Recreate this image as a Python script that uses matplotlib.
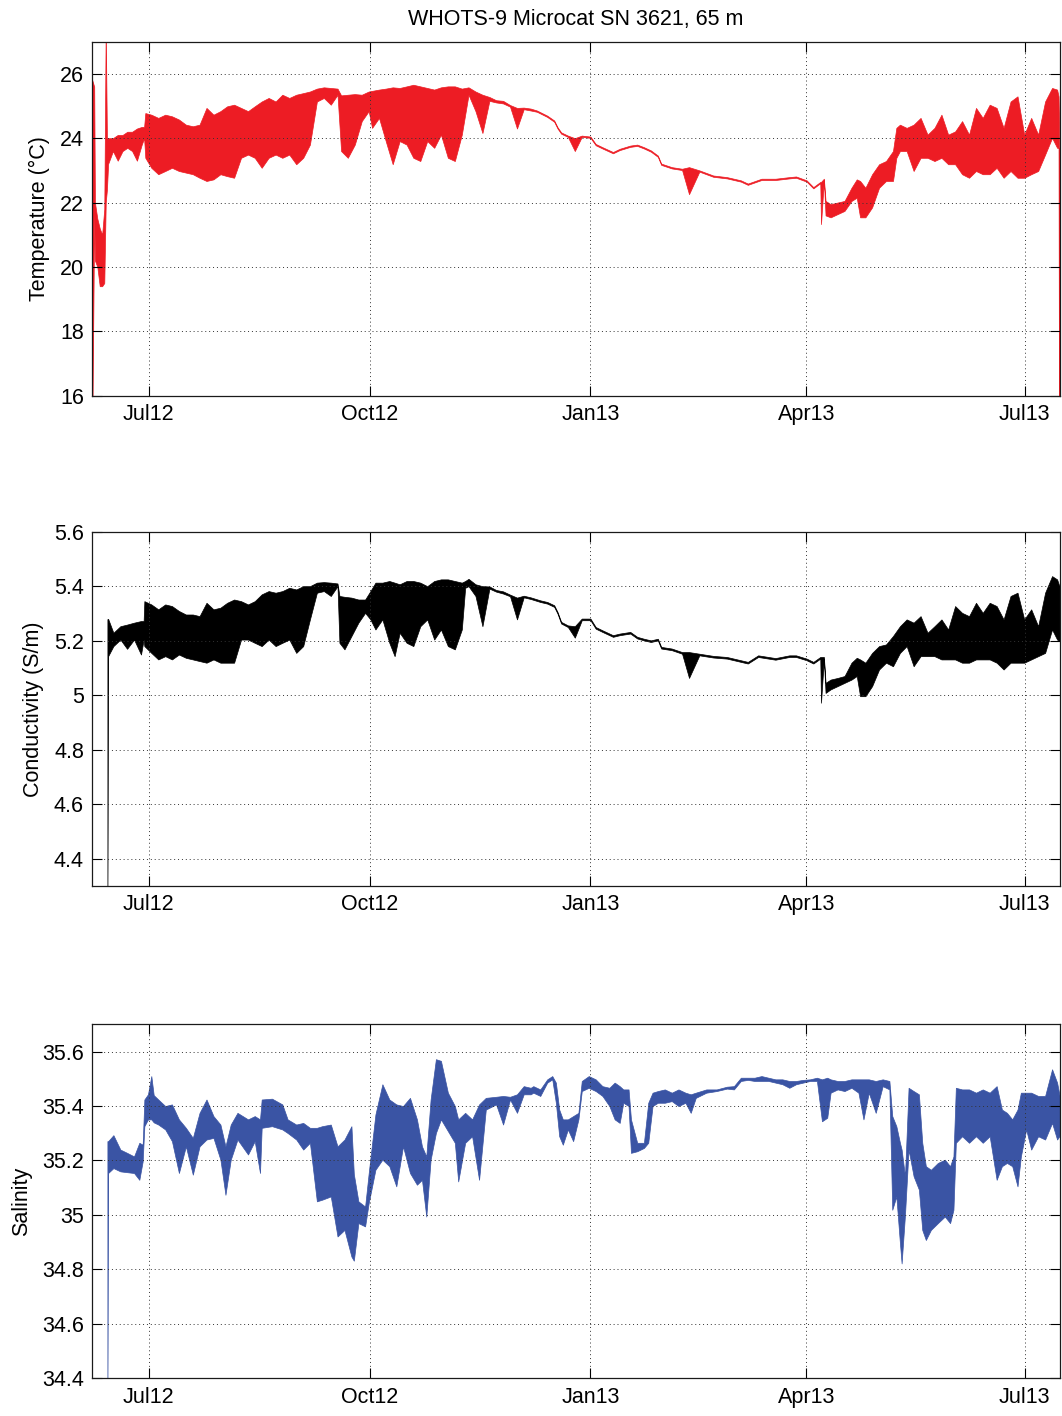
import numpy as np
import matplotlib
matplotlib.use("Agg")
import matplotlib.pyplot as plt
import matplotlib.dates as mdates
from matplotlib.ticker import FormatStrFormatter

plt.rcParams['font.family'] = ['Liberation Sans', 'DejaVu Sans']

# ---------------- data (days after 2012-07-01; lower / upper envelope of record) ----------------
T_days = [-23.6, -22.8, -22.5, -21.5, -20.5, -19.5, -18.6, -18.0, -17.5, -17.0, -15.0, -13.0, -11.0,
          -9.0, -7.0, -5.0, -3.0, -2.0, -1.5, 1.0, 3.9, 6.8, 9.6, 12.5, 15.4, 18.3, 21.1, 24.0, 26.9,
          29.8, 32.6, 35.5, 38.4, 41.3, 44.1, 47.0, 49.9, 52.8, 55.6, 58.5, 61.4, 64.3, 67.1, 70.0,
          72.9, 75.8, 78.6, 80.1, 82.9, 85.8, 88.7, 91.6, 93.0, 95.9, 98.7, 101.6, 104.5, 107.4,
          110.2, 113.1, 116.0, 118.9, 121.7, 124.6, 127.5, 130.4, 133.2, 136.1, 139.0, 141.9, 144.7,
          147.6, 150.5, 153.4, 156.2, 159.1, 161.7, 166.0, 168.9, 170.3, 171.8, 174.6, 177.5, 180.4,
          184.0, 186.2, 189.0, 193.4, 196.2, 200.6, 203.5, 206.3, 209.2, 212.1, 213.5, 217.9, 222.2,
          225.1, 229.4, 235.2, 240.9, 246.7, 249.6, 255.3, 261.1, 266.9, 269.7, 274.1, 276.9, 279.8,
          280.1, 281.3, 282.0, 284.1, 287.0, 289.9, 292.8, 295.0, 296.4, 298.6, 301.4, 304.3, 307.2,
          310.1, 311.5, 313.0, 315.8, 318.7, 321.6, 324.5, 327.4, 330.3, 333.1, 336.0, 338.9, 341.8,
          344.7, 347.5, 350.4, 353.3, 356.2, 359.1, 362.0, 364.8, 367.7, 370.6, 373.5, 376.4, 378.5,
          379.1, 379.3]
T_lo = [15.0, 21.6, 20.2, 20.0, 19.4, 19.4, 19.5, 22.0, 22.4, 23.2, 23.6, 23.3, 23.6,
        23.7, 23.6, 23.3, 23.8, 24.0, 23.39, 23.08, 22.88, 22.98, 23.08, 22.98, 22.93, 22.88, 22.77, 22.67, 22.72,
        22.88, 22.82, 22.77, 23.39, 23.49, 23.39, 23.08, 23.39, 23.49, 23.39, 23.49, 23.19, 23.39, 23.80, 25.14,
        25.25, 25.04, 25.35, 23.60, 23.39, 23.80, 24.53, 24.84, 24.32, 24.63, 23.91, 23.19, 23.91, 23.80,
        23.39, 23.29, 23.91, 23.70, 24.11, 23.39, 23.29, 24.11, 25.35, 24.84, 24.16, 25.16, 25.11,
        25.08, 24.98, 24.30, 24.90, 24.86, 24.82, 24.66, 24.51, 24.30, 24.14, 24.04, 23.60, 24.04,
        24.01, 23.78, 23.68, 23.53, 23.63, 23.73, 23.76, 23.68, 23.58, 23.42, 23.17, 23.06, 23.01,
        22.26, 22.96, 22.80, 22.75, 22.65, 22.55, 22.70, 22.70, 22.75, 22.77, 22.65, 22.44, 22.60,
        21.33, 22.70, 21.60, 21.54, 21.64, 21.74, 22.05, 22.15, 21.54, 21.54, 21.85, 22.46, 22.67,
        22.67, 23.39, 23.60, 23.60, 22.98, 23.39, 23.39, 23.29, 23.39, 23.19, 23.19, 22.88, 22.77,
        22.98, 22.88, 22.88, 23.08, 22.77, 22.98, 22.77, 22.77, 22.88, 22.98, 23.49, 24.01, 23.70,
        23.70, 15.0]
T_hi = [25.8, 25.6, 22.0, 21.5, 21.2, 21.0, 21.8, 27.5, 24.0, 24.0, 24.0, 24.1, 24.1,
        24.2, 24.2, 24.3, 24.35, 24.35, 24.78, 24.73, 24.63, 24.73, 24.68, 24.58, 24.42, 24.37, 24.42, 24.94, 24.73,
        24.84, 24.99, 25.04, 24.94, 24.84, 24.99, 25.14, 25.25, 25.14, 25.35, 25.25, 25.35, 25.40, 25.45, 25.54,
        25.58, 25.56, 25.54, 25.33, 25.35, 25.37, 25.35, 25.45, 25.47, 25.51, 25.54, 25.58, 25.56, 25.61,
        25.66, 25.61, 25.56, 25.51, 25.58, 25.61, 25.61, 25.54, 25.58, 25.45, 25.35, 25.28, 25.18,
        25.16, 25.03, 24.94, 24.95, 24.92, 24.86, 24.70, 24.55, 24.34, 24.18, 24.08, 24.00, 24.08,
        24.05, 23.82, 23.72, 23.57, 23.67, 23.77, 23.80, 23.72, 23.62, 23.46, 23.21, 23.10, 23.05,
        23.10, 23.00, 22.84, 22.79, 22.69, 22.59, 22.74, 22.74, 22.79, 22.81, 22.69, 22.48, 22.64,
        22.64, 22.74, 22.05, 21.95, 22.00, 22.05, 22.46, 22.72, 22.67, 22.46, 22.88, 23.19, 23.29,
        23.60, 24.32, 24.42, 24.32, 24.42, 24.63, 24.11, 24.32, 24.73, 24.11, 24.21, 24.53, 24.11,
        24.94, 24.63, 25.04, 24.94, 24.32, 25.14, 25.30, 24.11, 24.63, 24.11, 25.14, 25.56, 25.51,
        25.30, 24.5]

C_days = [-17.3, -17.0, -14.8, -11.9, -9.1, -6.2, -3.3, -2.2, -1.9, 1.0, 3.9, 6.8, 9.6, 12.5, 15.4,
          18.3, 21.1, 24.0, 26.9, 29.8, 32.6, 35.5, 38.4, 41.3, 44.1, 47.0, 49.9, 52.8, 55.6, 58.5,
          61.4, 64.3, 67.1, 70.0, 72.9, 75.8, 78.6, 79.4, 81.5, 84.4, 87.3, 90.1, 92.3, 94.4, 97.3,
          100.2, 102.4, 104.5, 107.4, 110.2, 113.1, 116.0, 118.9, 121.7, 124.6, 127.5, 130.4, 131.8,
          133.2, 136.1, 139.0, 141.9, 144.7, 147.6, 150.5, 153.4, 156.2, 159.1, 163.1, 166.0, 168.9,
          170.3, 171.8, 174.6, 177.5, 180.4, 184.0, 186.2, 189.0, 193.4, 196.2, 200.6, 203.5, 206.3,
          209.2, 212.1, 213.5, 217.9, 222.2, 225.1, 229.4, 235.2, 240.9, 246.7, 249.6, 253.9, 261.1,
          266.9, 269.7, 274.1, 276.9, 279.8, 280.1, 281.3, 282.0, 284.1, 287.0, 289.9, 292.8, 295.0,
          296.4, 298.6, 301.4, 304.3, 307.2, 310.1, 313.0, 315.8, 318.7, 321.6, 324.5, 327.4, 330.3,
          333.1, 336.0, 338.9, 341.8, 344.7, 347.5, 350.4, 353.3, 356.2, 359.1, 362.0, 364.8, 367.7,
          370.6, 373.5, 376.4, 378.5, 379.5]
C_lo = [4.20, 5.144, 5.181, 5.205, 5.171, 5.205, 5.150, 5.205, 5.181, 5.156, 5.132, 5.144, 5.132, 5.150, 5.138,
        5.132, 5.126, 5.120, 5.132, 5.120, 5.120, 5.120, 5.205, 5.205, 5.193, 5.181, 5.205, 5.181, 5.193, 5.205,
        5.156, 5.181, 5.279, 5.377, 5.383, 5.365, 5.401, 5.193, 5.169, 5.218, 5.267, 5.303, 5.279, 5.242, 5.279,
        5.193, 5.144, 5.230, 5.193, 5.181, 5.254, 5.279, 5.205, 5.242, 5.181, 5.169, 5.242, 5.395,
        5.401, 5.365, 5.254, 5.392, 5.381, 5.374, 5.364, 5.279, 5.360, 5.354, 5.343, 5.337, 5.325,
        5.300, 5.264, 5.251, 5.212, 5.276, 5.276, 5.245, 5.233, 5.215, 5.221, 5.227, 5.209, 5.202,
        5.196, 5.202, 5.172, 5.166, 5.153, 5.064, 5.147, 5.139, 5.135, 5.123, 5.117, 5.141, 5.131,
        5.141, 5.141, 5.129, 5.117, 5.135, 4.973, 5.135, 5.009, 5.022, 5.034, 5.046, 5.058, 5.071,
        4.997, 4.997, 5.034, 5.095, 5.120, 5.107, 5.156, 5.181, 5.107, 5.144, 5.144, 5.144, 5.132,
        5.132, 5.132, 5.120, 5.120, 5.132, 5.132, 5.132, 5.120, 5.095, 5.120, 5.120, 5.120, 5.132,
        5.144, 5.156, 5.242, 5.205, 5.199]
C_hi = [5.28, 5.281, 5.230, 5.254, 5.260, 5.267, 5.273, 5.273, 5.346, 5.334, 5.316, 5.334, 5.328, 5.310, 5.297,
        5.297, 5.291, 5.340, 5.316, 5.322, 5.340, 5.352, 5.346, 5.334, 5.346, 5.371, 5.383, 5.377, 5.383, 5.395,
        5.389, 5.401, 5.401, 5.414, 5.416, 5.414, 5.411, 5.365, 5.362, 5.359, 5.352, 5.352, 5.383, 5.414, 5.414,
        5.420, 5.414, 5.408, 5.420, 5.420, 5.414, 5.401, 5.420, 5.426, 5.426, 5.420, 5.414, 5.420,
        5.428, 5.408, 5.401, 5.400, 5.387, 5.382, 5.370, 5.359, 5.366, 5.360, 5.349, 5.343, 5.331,
        5.306, 5.270, 5.257, 5.254, 5.282, 5.282, 5.251, 5.239, 5.221, 5.227, 5.233, 5.215, 5.208,
        5.202, 5.208, 5.178, 5.172, 5.159, 5.159, 5.153, 5.145, 5.141, 5.129, 5.123, 5.147, 5.137,
        5.147, 5.147, 5.135, 5.123, 5.141, 5.141, 5.141, 5.046, 5.058, 5.064, 5.071, 5.120, 5.138,
        5.132, 5.120, 5.156, 5.181, 5.187, 5.218, 5.254, 5.279, 5.267, 5.291, 5.230, 5.254, 5.279,
        5.242, 5.328, 5.303, 5.291, 5.340, 5.303, 5.340, 5.328, 5.279, 5.365, 5.377, 5.279, 5.316,
        5.254, 5.377, 5.438, 5.426, 5.400]

S_days = [-17.3, -17.0, -14.8, -11.9, -9.1, -6.2, -4.0, -2.6, -1.9, -0.4, 1.0, 2.0, 3.9, 6.8, 9.6,
          12.5, 15.4, 18.3, 21.1, 24.0, 26.9, 29.8, 31.9, 34.1, 36.9, 41.3, 44.1, 46.3, 47.0, 51.3,
          55.6, 57.8, 61.4, 64.3, 67.1, 70.0, 72.2, 75.8, 78.6, 81.5, 84.4, 85.4, 87.3, 90.1, 91.6,
          94.4, 97.3, 100.2, 103.1, 105.9, 108.8, 111.7, 113.8, 115.6, 117.4, 119.6, 121.7, 124.6,
          127.5, 128.9, 131.8, 134.7, 137.6, 140.4, 144.7, 147.6, 150.5, 153.4, 156.2, 159.1, 160.2,
          163.1, 166.0, 168.1, 169.6, 171.0, 172.5, 174.6, 176.8, 179.0, 180.4, 183.3, 186.2, 189.0,
          191.9, 194.1, 196.2, 197.7, 199.9, 200.9, 203.5, 206.3, 208.1, 209.9, 212.1, 215.0, 217.9,
          220.7, 223.6, 225.8, 227.9, 232.3, 236.6, 240.9, 243.8, 246.7, 249.6, 252.4, 255.3, 258.2,
          261.1, 264.0, 266.9, 269.7, 272.6, 275.5, 278.4, 280.5, 282.7, 284.1, 287.0, 289.9, 292.8,
          295.7, 297.8, 300.0, 302.9, 305.8, 308.6, 309.8, 311.5, 313.0, 313.7, 315.1, 316.6, 318.7,
          320.9, 322.3, 323.8, 325.9, 328.8, 331.7, 333.9, 335.3, 336.3, 338.9, 341.8, 344.7, 347.5,
          350.4, 353.3, 355.5, 357.6, 359.8, 362.0, 363.4, 365.6, 367.7, 370.6, 373.5, 376.4, 378.5,
          379.5]
S_lo = [34.30, 35.154, 35.172, 35.160, 35.157, 35.154, 35.129, 35.197, 35.326, 35.351, 35.351, 35.340, 35.332, 35.314, 35.271,
        35.154, 35.252, 35.148, 35.252, 35.277, 35.283, 35.203, 35.074, 35.203, 35.277, 35.222, 35.271, 35.154, 35.320, 35.326,
        35.314, 35.301, 35.277, 35.240, 35.265, 35.050, 35.056, 35.068, 34.921, 34.945, 34.847, 34.832, 34.970, 34.958, 35.044,
        35.166, 35.203, 35.179, 35.105, 35.252, 35.154, 35.111, 35.129, 34.994, 35.203, 35.301, 35.351, 35.308,
        35.265, 35.123, 35.265, 35.289, 35.129, 35.387, 35.406, 35.332, 35.424, 35.375, 35.443, 35.443, 35.449,
        35.437, 35.486, 35.498, 35.412, 35.289, 35.258, 35.314, 35.271, 35.351, 35.455, 35.467, 35.455, 35.437,
        35.400, 35.351, 35.338, 35.412, 35.400, 35.228, 35.234, 35.246, 35.265, 35.400, 35.412, 35.412, 35.418,
        35.400, 35.412, 35.375, 35.430, 35.449, 35.455, 35.464, 35.461, 35.492, 35.496, 35.492, 35.492, 35.492,
        35.486, 35.480, 35.467, 35.480, 35.486, 35.492, 35.492, 35.344, 35.357, 35.449, 35.461, 35.455, 35.467,
        35.449, 35.351, 35.449, 35.375, 35.473, 35.461, 35.019, 35.068, 34.896, 34.822, 35.000, 35.240, 35.142,
        35.093, 34.945, 34.908, 34.945, 34.970, 34.994, 34.970, 35.019, 35.265, 35.289, 35.265, 35.289, 35.265,
        35.289, 35.129, 35.179, 35.191, 35.179, 35.105, 35.215, 35.314, 35.240, 35.289, 35.277, 35.338, 35.277,
        35.290]
S_hi = [35.271, 35.271, 35.293, 35.240, 35.228, 35.215, 35.265, 35.258, 35.424, 35.443, 35.510, 35.440, 35.424, 35.400, 35.406,
        35.351, 35.320, 35.283, 35.375, 35.424, 35.363, 35.332, 35.252, 35.332, 35.375, 35.351, 35.363, 35.351, 35.424, 35.427,
        35.406, 35.351, 35.332, 35.338, 35.320, 35.320, 35.326, 35.332, 35.252, 35.277, 35.326, 35.150, 35.050, 35.031, 35.154,
        35.369, 35.480, 35.424, 35.406, 35.400, 35.430, 35.351, 35.252, 35.215, 35.424, 35.572, 35.566, 35.449,
        35.400, 35.351, 35.375, 35.351, 35.406, 35.430, 35.434, 35.437, 35.434, 35.443, 35.473, 35.467, 35.473,
        35.461, 35.498, 35.510, 35.486, 35.387, 35.351, 35.351, 35.363, 35.375, 35.492, 35.510, 35.498, 35.473,
        35.467, 35.486, 35.473, 35.461, 35.461, 35.351, 35.265, 35.265, 35.412, 35.449, 35.455, 35.461, 35.449,
        35.461, 35.449, 35.443, 35.449, 35.461, 35.461, 35.471, 35.473, 35.504, 35.504, 35.504, 35.510, 35.504,
        35.498, 35.498, 35.492, 35.492, 35.496, 35.498, 35.504, 35.498, 35.504, 35.498, 35.492, 35.492, 35.498,
        35.498, 35.498, 35.498, 35.492, 35.498, 35.492, 35.363, 35.326, 35.265, 35.240, 35.142, 35.467, 35.455,
        35.443, 35.265, 35.179, 35.166, 35.191, 35.203, 35.179, 35.215, 35.467, 35.461, 35.461, 35.449, 35.461,
        35.449, 35.473, 35.387, 35.375, 35.351, 35.387, 35.449, 35.449, 35.449, 35.437, 35.437, 35.535, 35.486,
        35.440]

T_ticks = [16, 18, 20, 22, 24, 26]
C_ticks = [4.4, 4.6, 4.8, 5.0, 5.2, 5.4, 5.6]
S_ticks = [34.4, 34.6, 34.8, 35.0, 35.2, 35.4, 35.6]

# ---------------- plotting ----------------
base = np.datetime64('2012-07-01T00:00')


def to_dates(days):
    return base + np.round(np.asarray(days, dtype=float) * 1440).astype('timedelta64[m]')


fig = plt.figure(figsize=(10.62, 14.16), dpi=100)
L, W, H = 0.0869, 0.9112, 0.25
bottoms = [0.7206, 0.3743, 0.0266]

panels = [
    (T_days, T_lo, T_hi, '#ED1C24', (16, 27), T_ticks, 'Temperature (\u00b0C)'),
    (C_days, C_lo, C_hi, '#000000', (4.3, 5.6), C_ticks, 'Conductivity (S/m)'),
    (S_days, S_lo, S_hi, '#3A54A4', (34.4, 35.7), S_ticks, 'Salinity'),
]

xlim = (to_dates(-23.6), to_dates(379.7))

for i, (d, lo, hi, col, ylim, yt, lab) in enumerate(panels):
    ax = fig.add_axes([L, bottoms[i], W, H])
    ax.fill_between(to_dates(d), lo, hi, color=col, edgecolor=col, linewidth=0.5)
    ax.set_xlim(*xlim)
    ax.set_ylim(*ylim)
    ax.set_yticks(yt)
    ax.yaxis.set_major_formatter(FormatStrFormatter('%g'))
    ax.xaxis.set_major_locator(mdates.MonthLocator(bymonth=[1, 4, 7, 10], bymonthday=1))
    ax.xaxis.set_major_formatter(mdates.DateFormatter('%b%y'))
    ax.grid(True, linestyle=(0, (1, 3)), color='0.2', linewidth=0.7)
    ax.tick_params(direction='in', length=7, width=0.8, top=True, right=True,
                   labelsize=15.5, pad=6, colors='black')
    for sp in ax.spines.values():
        sp.set_linewidth(0.9)
        sp.set_color('0.1')
    ax.set_ylabel(lab, fontsize=15.5, labelpad=7)
    if i == 0:
        ax.set_title('WHOTS-9 Microcat SN 3621, 65 m', fontsize=15.5, pad=12)

fig.savefig('out.png', dpi=100)
